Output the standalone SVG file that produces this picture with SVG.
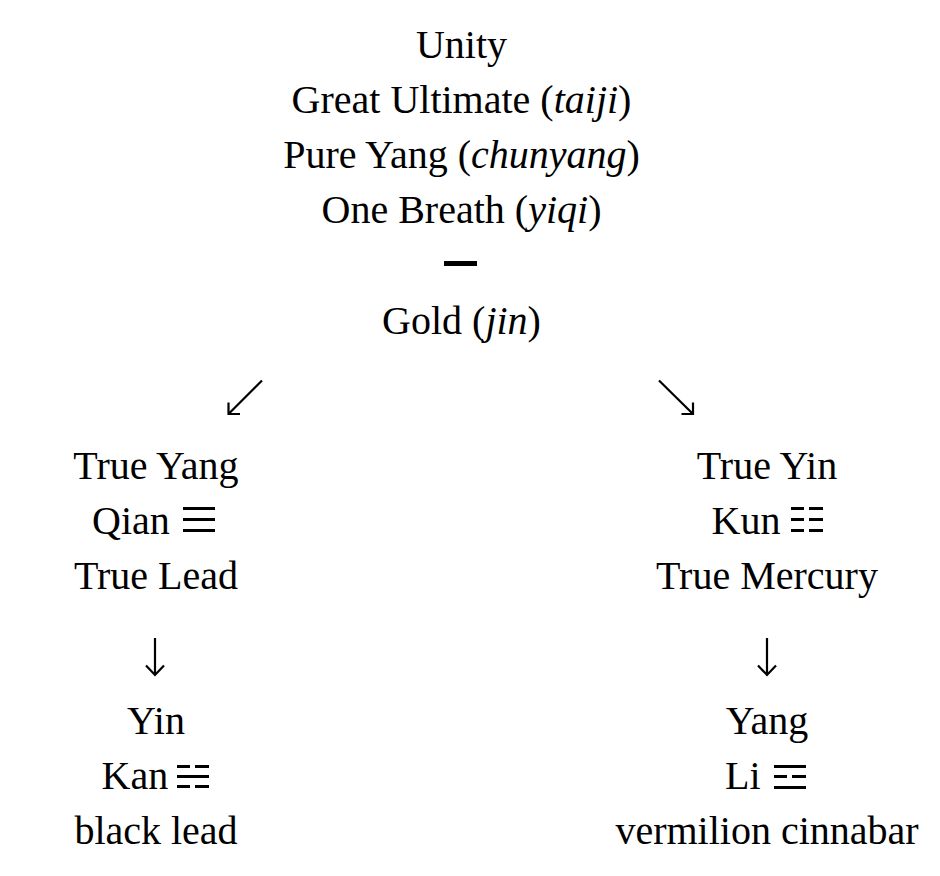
<svg xmlns="http://www.w3.org/2000/svg" width="940" height="876" viewBox="0 0 940 876">
<style>
text{font-family:"Liberation Serif","Times New Roman",serif;font-size:40px;fill:#000;text-anchor:middle}
.l{text-anchor:start}
.i{font-style:italic}
.arr{fill:none;stroke:#000;stroke-width:2.2;stroke-linecap:butt}
.tri{fill:#000}
</style>
<rect width="940" height="876" fill="#fff"/>
<g id="top">
<text x="461.5" y="58">Unity</text>
<text x="461.5" y="113">Great Ultimate (<tspan class="i">taiji</tspan>)</text>
<text x="461.5" y="168">Pure Yang (<tspan class="i">chunyang</tspan>)</text>
<text x="461.5" y="223">One Breath (<tspan class="i">yiqi</tspan>)</text>
<rect x="444" y="261" width="33" height="5" fill="#000"/>
<text x="461.5" y="334">Gold (<tspan class="i">jin</tspan>)</text>
</g>
<g id="connectors">
<path class="arr" d="M262 380.5 L228.5 414 M228.5 402.5 L228.5 414 L240 414"/>
<path class="arr" d="M659 380.5 L693 414 M693 402.5 L693 414 L681.5 414"/>
<path class="arr" d="M155 638 L155 675 M146 665.5 L155 675 L164 665.5"/>
<path class="arr" d="M767 638 L767 675 M758 665.5 L767 675 L776 665.5"/>
</g>
<g id="left-upper">
<text x="156" y="479">True Yang</text>
<text class="l" x="92" y="534">Qian</text>
<g class="tri">
<rect x="183" y="507" width="32" height="3"/>
<rect x="183" y="518" width="32" height="3"/>
<rect x="183" y="529" width="32" height="3"/>
</g>
<text x="156" y="589">True Lead</text>
</g>
<g id="right-upper">
<text x="767" y="479">True Yin</text>
<text class="l" x="711.5" y="534">Kun</text>
<g class="tri">
<rect x="791" y="507" width="13" height="3"/><rect x="809" y="507" width="14" height="3"/>
<rect x="791" y="518" width="13" height="3"/><rect x="809" y="518" width="14" height="3"/>
<rect x="791" y="529" width="13" height="3"/><rect x="809" y="529" width="14" height="3"/>
</g>
<text x="767" y="589">True Mercury</text>
</g>
<g id="left-lower">
<text x="156" y="734">Yin</text>
<text class="l" x="101.5" y="789">Kan</text>
<g class="tri">
<rect x="177" y="765" width="13" height="3"/><rect x="195" y="765" width="14" height="3"/>
<rect x="177" y="775" width="32" height="3"/>
<rect x="177" y="785" width="13" height="3"/><rect x="195" y="785" width="14" height="3"/>
</g>
<text x="156" y="844">black lead</text>
</g>
<g id="right-lower">
<text x="767" y="734">Yang</text>
<text class="l" x="725" y="789">Li</text>
<g class="tri">
<rect x="774" y="765" width="32" height="3"/>
<rect x="774" y="775" width="13" height="3"/><rect x="792" y="775" width="14" height="3"/>
<rect x="774" y="786" width="32" height="3"/>
</g>
<text x="767" y="844">vermilion cinnabar</text>
</g>
</svg>
